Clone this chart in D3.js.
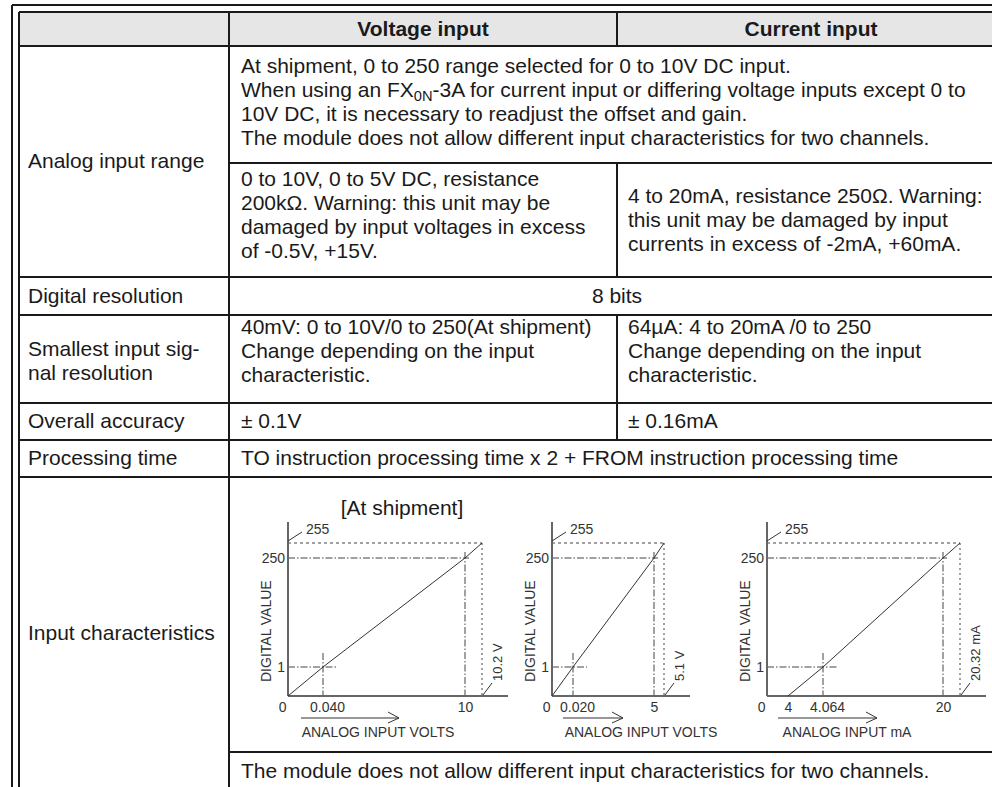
<!DOCTYPE html>
<html>
<head>
<meta charset="utf-8">
<script src="https://cdn.jsdelivr.net/npm/d3@7"></script>
<style>
  body { margin: 0; background: #fff; }
  svg { display: block; font-family: "Liberation Sans", Arial, Helvetica, sans-serif; }
</style>
</head>
<body>
<div id="chart"></div>
<script>
// ---- table text ----
const headers = ['Voltage input', 'Current input'];
const rowLabels = [['Analog input range'], ['Digital resolution'], ['Smallest input sig-', 'nal resolution'],
  ['Overall accuracy'], ['Processing time'], ['Input characteristics']];
const rangeNote = ['At shipment, 0 to 250 range selected for 0 to 10V DC input.',
  'When using an FX|0N|-3A for current input or differing voltage inputs except 0 to',
  '10V DC, it is necessary to readjust the offset and gain.',
  'The module does not allow different input characteristics for two channels.'];
const voltageRange = ['0 to 10V, 0 to 5V DC, resistance', '200kΩ. Warning: this unit may be',
  'damaged by input voltages in excess', 'of -0.5V, +15V.'];
const currentRange = ['4 to 20mA, resistance 250Ω. Warning:', 'this unit may be damaged by input',
  'currents in excess of -2mA, +60mA.'];
const resolution = '8 bits';
const voltageSmallest = ['40mV: 0 to 10V/0 to 250(At shipment)', 'Change depending on the input', 'characteristic.'];
const currentSmallest = ['64µA: 4 to 20mA /0 to 250', 'Change depending on the input', 'characteristic.'];
const accuracy = ['± 0.1V', '± 0.16mA'];
const processing = 'TO instruction processing time x 2 + FROM instruction processing time';
const footNote = 'The module does not allow different input characteristics for two channels.';

// ---- characteristic charts ----
const digitalTicks = [0, 1, 250, 255];
const chartTitles = ['[At shipment]', '', ''];
const inputTicks = [[0, 0.040, 10, 10.2], [0, 0.020, 5, 5.1], [0, 4, 4.064, 20, 20.32]];
const tickLabels = [['0', '0.040', '10'], ['0', '0.020', '5'], ['0', '4', '4.064', '20']];
const maxLabels = ['10.2 V', '5.1 V', '20.32 mA'];
const axisTitles = ['ANALOG INPUT VOLTS', 'ANALOG INPUT VOLTS', 'ANALOG INPUT mA'];
const curves = [
  [[0, 0], [0.040, 1], [10, 250], [10.2, 255]],
  [[0, 0], [0.020, 1], [5, 250], [5.1, 255]],
  [[4, 0], [4.064, 1], [20, 250], [20.32, 255]]
];

const W = 992, H = 787;
const svg = d3.select('#chart').append('svg').attr('width', W).attr('height', H);

const ink = '#1a1a1a';
const fs = 21;

// header background
svg.append('rect').attr('x', 19).attr('y', 12).attr('width', W).attr('height', 34).attr('fill', '#e6e6e6');

// grid lines
const hLines = [[5, 12], [12, 19], [46, 19], [163, 229], [277, 19], [315, 19], [403, 19], [440, 19], [477, 19], [752, 229]];
svg.append('g').selectAll('line').data(hLines).join('line')
  .attr('x1', d => d[1]).attr('x2', W).attr('y1', d => d[0]).attr('y2', d => d[0])
  .attr('stroke', ink).attr('stroke-width', 2);
const vLines = [[12, 5, H], [19, 12, H], [229, 12, H], [617, 12, 46], [617, 163, 277], [617, 315, 440]];
svg.append('g').selectAll('line').data(vLines).join('line')
  .attr('x1', d => d[0]).attr('x2', d => d[0]).attr('y1', d => d[1]).attr('y2', d => d[2])
  .attr('stroke', ink).attr('stroke-width', 2);

// text helper: lines centred at y0, y0+step...
function block(lines, x, y0, opts = {}) {
  const step = opts.step || 24;
  const t = svg.append('g');
  lines.forEach((s, i) => {
    const el = t.append('text')
      .attr('x', x).attr('y', y0 + i * step).attr('dy', '0.35em')
      .attr('fill', ink).style('font-size', (opts.size || fs) + 'px')
      .style('font-weight', opts.bold ? 'bold' : 'normal')
      .attr('text-anchor', opts.anchor || 'start');
    const parts = s.split('|');
    parts.forEach((p, j) => {
      const ts = el.append('tspan').text(p);
      if (j % 2 === 1) ts.attr('baseline-shift', '-25%').style('font-size', (fs * 0.7) + 'px');
    });
  });
}

block([headers[0]], 423, 29, { bold: true, anchor: 'middle' });
block([headers[1]], 811, 29, { bold: true, anchor: 'middle' });

block(rowLabels[0], 28, 161);
block(rowLabels[1], 28, 296);
block(rowLabels[2], 28, 349);
block(rowLabels[3], 28, 421);
block(rowLabels[4], 28, 458);
block(rowLabels[5], 28, 633);

block(rangeNote, 241, 66);
block(voltageRange, 241, 179);
block(currentRange, 628, 196);
block([resolution], 617, 296, { anchor: 'middle' });
block(voltageSmallest, 241, 327);
block(currentSmallest, 628, 327);
block([accuracy[0]], 241, 421);
block([accuracy[1]], 628, 421);
block([processing], 241, 458);
block([footNote], 241, 771);

// ---- charts ----
const yRange = [696, 667, 558, 543];
const frames = [
  { range: [288, 323, 465, 482], arrow: [13, 111], labelX: 378, titleX: 402 },
  { range: [552, 573, 654, 664], arrow: [11, 71], labelX: 641 },
  { range: [767, 788, 823, 943, 960], arrow: [11, 110], labelX: 847 }
];
const gray = '#444';
const cfs = 14;
const y = d3.scaleLinear().domain(digitalTicks).range(yRange);

inputTicks.forEach((dom, i) => {
  const f = frames[i];
  const x = d3.scaleLinear().domain(dom).range(f.range);
  const g = svg.append('g');
  const x0 = x(0), y0 = y(0);
  const c = curves[i];
  const lowX = c[1][0], fullX = c[2][0], maxX = c[3][0];

  if (chartTitles[i]) {
    g.append('text').attr('x', f.titleX).attr('y', 508).attr('dy', '0.35em')
      .attr('text-anchor', 'middle').attr('fill', ink).style('font-size', fs + 'px').text(chartTitles[i]);
  }

  // guide lines
  const guide = (x1, y1, x2, y2, dash) => g.append('line')
    .attr('x1', x1).attr('y1', y1).attr('x2', x2).attr('y2', y2)
    .attr('stroke', gray).attr('stroke-width', 1).attr('stroke-dasharray', dash);
  const dashDot = '7,2,1.5,2';
  guide(x0, y(255), x(maxX), y(255), '3,3');
  guide(x(maxX), y(255), x(maxX), y0, '2,3');
  guide(x0, y(250), x(fullX) + 4, y(250), dashDot);
  guide(x(fullX), y(250) - 6, x(fullX), y0, dashDot);
  guide(x0, y(1), x(lowX) + 14, y(1), dashDot);
  guide(x(lowX), y(1) - 14, x(lowX), y0, dashDot);

  // axes lines
  g.append('line').attr('x1', x0).attr('x2', x0).attr('y1', 522).attr('y2', y0)
    .attr('stroke', '#666').attr('stroke-width', 2);
  g.append('line').attr('x1', x0).attr('x2', x(maxX) + 26).attr('y1', y0).attr('y2', y0)
    .attr('stroke', '#666').attr('stroke-width', 2);

  // characteristic line
  g.append('path').datum(c)
    .attr('d', d3.line().x(d => x(d[0])).y(d => y(d[1])))
    .attr('fill', 'none').attr('stroke', '#333').attr('stroke-width', 1);

  // y tick labels
  const ya = g.append('g').attr('transform', `translate(${x0},0)`)
    .call(d3.axisLeft(y).tickValues([1, 250]).tickSize(0).tickPadding(3).tickFormat(d3.format('d')));
  ya.select('.domain').remove();
  ya.selectAll('text').attr('fill', '#333').style('font-size', cfs + 'px').style('font-family', 'inherit');

  // x tick labels
  const xt = dom.slice(0, tickLabels[i].length);
  const xa = g.append('g').attr('transform', `translate(0,${y0})`)
    .call(d3.axisBottom(x).tickValues(xt).tickSize(0).tickPadding(6).tickFormat((d, k) => tickLabels[i][k]));
  xa.select('.domain').remove();
  xa.selectAll('text').attr('fill', '#333').style('font-size', cfs + 'px').style('font-family', 'inherit')
    .attr('text-anchor', d => d === 0 ? 'end' : 'middle')
    .attr('dx', d => d === 0 ? '-2' : (d === lowX ? '4' : '0'));

  // 255 label with leader
  g.append('line').attr('x1', x0).attr('y1', y(255) - 2).attr('x2', x0 + 14).attr('y2', y(255) - 11)
    .attr('stroke', '#333').attr('stroke-width', 1);
  g.append('text').attr('x', x0 + 18).attr('y', y(255) - 14).attr('dy', '0.35em')
    .attr('fill', '#333').style('font-size', cfs + 'px').text('255');

  // max input label (rotated) with leader
  g.append('line').attr('x1', x(maxX) + 10).attr('y1', y0 - 13).attr('x2', x(maxX) + 1).attr('y2', y0 - 1)
    .attr('stroke', '#333').attr('stroke-width', 1);
  g.append('text').attr('transform', `translate(${x(maxX) + 15},${y0 - 15}) rotate(-90)`)
    .attr('dy', '0.35em').attr('fill', '#333').style('font-size', '13px').text(maxLabels[i]);

  // y title
  g.append('text').attr('transform', `translate(${x0 - 22},${y0 - 14}) rotate(-90)`)
    .attr('dy', '0.35em').attr('fill', '#333').style('font-size', cfs + 'px').text('DIGITAL VALUE');

  // arrow + x title
  const ax1 = x0 + f.arrow[0], ax2 = x0 + f.arrow[1], ay = 718;
  g.append('path').attr('d', `M${ax1},${ay}H${ax2}M${ax2 - 11},${ay - 6}L${ax2},${ay}L${ax2 - 11},${ay + 5}`)
    .attr('fill', 'none').attr('stroke', '#333').attr('stroke-width', 1);
  g.append('text').attr('x', f.labelX).attr('y', 732).attr('dy', '0.35em')
    .attr('text-anchor', 'middle').attr('fill', '#333').style('font-size', cfs + 'px').text(axisTitles[i]);
});
</script>
</body>
</html>
